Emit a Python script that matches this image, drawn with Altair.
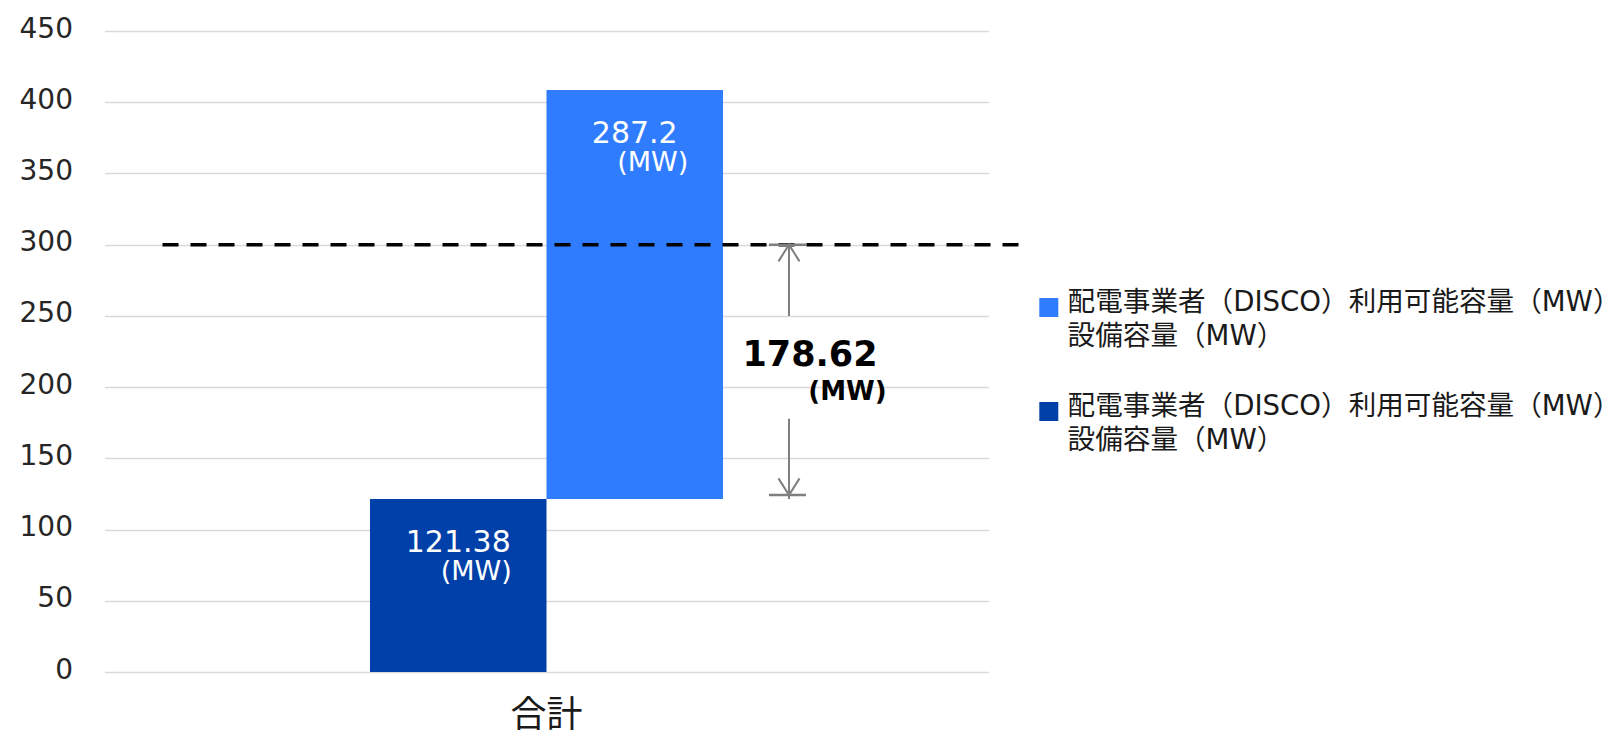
import altair as alt
import pandas as pd

# --- chart data -------------------------------------------------------------
categories = ["合計"]
series_keys = ["base", "added"]          # drawn left to right inside the category
series_values = [121.38, 287.2]          # MW
series_colors = {"base": "#0040A8", "added": "#307CFF"}
legend_order = ["added", "base"]
legend_lines = ["配電事業者（DISCO）利用可能容量（MW）", "設備容量（MW）"]
unit_label = "(MW)"
reference_level = 300                   # MW, dashed line
y_ticks = [0, 50, 100, 150, 200, 250, 300, 350, 400, 450]

# arrow shafts stop short of the gap label (in MW)
shaft_top_end = 250
shaft_bottom_start = 175

# --- derived tables ---------------------------------------------------------
base_value, added_value = series_values
bars = pd.DataFrame({
    "cat": categories * 2,
    "series": series_keys,
    "start": [0, base_value],
    "end": [base_value, base_value + added_value],
    "value": series_values,
})
bars["label"] = bars["value"].map(lambda v: f"{v:g}")

gap = reference_level - base_value
gap_df = pd.DataFrame({
    "mid": [(reference_level + base_value) / 2],
    "label": [f"{gap:.2f}"],
})
ref_df = pd.DataFrame({"level": [reference_level]})
top_df = pd.DataFrame({"y": [reference_level], "y2": [shaft_top_end]})
bottom_df = pd.DataFrame({"y": [shaft_bottom_start], "y2": [base_value]})
base_df = pd.DataFrame({"level": [base_value]})

# --- fonts / styling --------------------------------------------------------
LATIN = "'DejaVu Sans', 'Noto Sans CJK JP'"
CJK = "'Noto Sans CJK JP'"
ARROW_GREY = "#7f7f7f"
ARROW_X = 684.5
# legend swatch: 19px square, nudged up so it lines up with the first text line
SWATCH = "M -1 -1.35 L 1 -1.35 L 1 0.65 L -1 0.65 Z"

y_scale = alt.Scale(domain=[0, 450], nice=False, zero=True)
y_axis = alt.Axis(
    title=None, values=y_ticks, grid=True, gridColor="#d9d9d9", gridWidth=1.5,
    domain=False, ticks=False, labelFont=LATIN, labelFontSize=28,
    labelColor="#262626", labelPadding=32, labelOffset=-2,
)

x_enc = alt.X(
    "cat:N",
    scale=alt.Scale(paddingInner=0, paddingOuter=0.752),
    axis=alt.Axis(title=None, labelAngle=0, labelFont=CJK, labelFontSize=36,
                  labelColor="#1a1a1a", labelPadding=26, domain=False,
                  ticks=False, grid=False),
)
xoff_enc = alt.XOffset("series:N", sort=series_keys,
                       scale=alt.Scale(paddingInner=0, paddingOuter=0))

label_expr = "[" + ", ".join(f"'{s}'" for s in legend_lines) + "]"

bar_layer = alt.Chart(bars).mark_bar().encode(
    x=x_enc,
    xOffset=xoff_enc,
    y=alt.Y("end:Q", scale=y_scale, axis=y_axis),
    y2="start:Q",
    color=alt.Color(
        "series:N",
        scale=alt.Scale(domain=legend_order,
                        range=[series_colors[k] for k in legend_order]),
        legend=alt.Legend(
            title=None, orient="none", legendX=930.5, legendY=266,
            direction="vertical", symbolType=SWATCH, symbolSize=361,
            symbolStrokeWidth=0, labelExpr=label_expr, labelFont=LATIN,
            labelFontSize=27.6, labelColor="#1a1a1a",
            labelBaseline="alphabetic", labelLimit=1000, labelOffset=5,
            rowPadding=41, padding=0,
        ),
    ),
)

value_text = alt.Chart(bars).mark_text(
    font=LATIN, fontSize=30, color="white", dy=44, baseline="middle"
).encode(x=x_enc, xOffset=xoff_enc,
         y=alt.Y("end:Q", scale=y_scale, axis=y_axis), text="label:N")

unit_text = alt.Chart(bars).mark_text(
    font=LATIN, fontSize=27, color="white", dx=18, dy=73, baseline="middle"
).encode(x=x_enc, xOffset=xoff_enc,
         y=alt.Y("end:Q", scale=y_scale, axis=y_axis),
         text=alt.value(unit_label))

ref_line = alt.Chart(ref_df).mark_rule(
    color="black", strokeWidth=3.5, strokeDash=[16, 12]
).encode(x=alt.value(58), x2=alt.value(915),
         y=alt.Y("level:Q", scale=y_scale, axis=y_axis))

top_shaft = alt.Chart(top_df).mark_rule(color=ARROW_GREY, strokeWidth=2).encode(
    x=alt.value(ARROW_X), y=alt.Y("y:Q", scale=y_scale, axis=y_axis), y2="y2:Q")
bottom_shaft = alt.Chart(bottom_df).mark_rule(
    color=ARROW_GREY, strokeWidth=2, yOffset=-4
).encode(x=alt.value(ARROW_X), y=alt.Y("y:Q", scale=y_scale, axis=y_axis),
         y2="y2:Q")

top_cap = alt.Chart(ref_df).mark_rule(color=ARROW_GREY, strokeWidth=2.5).encode(
    x=alt.value(664.5), x2=alt.value(701.5),
    y=alt.Y("level:Q", scale=y_scale, axis=y_axis))
bottom_cap = alt.Chart(base_df).mark_rule(
    color=ARROW_GREY, strokeWidth=2.5, yOffset=-4
).encode(x=alt.value(664.5), x2=alt.value(701.5),
         y=alt.Y("level:Q", scale=y_scale, axis=y_axis))

head_up = alt.Chart(ref_df).mark_point(
    shape="M -0.63 1 L 0 0 L 0.63 1", size=1116, filled=False,
    color=ARROW_GREY, strokeWidth=2, opacity=1
).encode(x=alt.value(ARROW_X), y=alt.Y("level:Q", scale=y_scale, axis=y_axis))
head_down = alt.Chart(base_df).mark_point(
    shape="M -0.63 -1 L 0 0 L 0.63 -1", size=1116, filled=False,
    color=ARROW_GREY, strokeWidth=2, opacity=1, yOffset=-4
).encode(x=alt.value(ARROW_X), y=alt.Y("level:Q", scale=y_scale, axis=y_axis))

gap_text = alt.Chart(gap_df).mark_text(
    font=LATIN, fontSize=35, fontWeight="bold", color="black", dy=-17,
    baseline="middle"
).encode(x=alt.value(705.5), y=alt.Y("mid:Q", scale=y_scale, axis=y_axis),
         text="label:N")
gap_unit = alt.Chart(gap_df).mark_text(
    font=LATIN, fontSize=26, fontWeight="bold", color="black", dy=20,
    baseline="middle"
).encode(x=alt.value(743), y=alt.Y("mid:Q", scale=y_scale, axis=y_axis),
         text=alt.value(unit_label))

chart = alt.layer(
    bar_layer, value_text, unit_text, ref_line,
    top_shaft, bottom_shaft, top_cap, bottom_cap, head_up, head_down,
    gap_text, gap_unit,
).properties(
    width=884, height=641,
    autosize=alt.AutoSizeParams(type="none"),
    padding={"left": 104.5, "top": 31, "right": 634.5, "bottom": 64},
).configure(
    background="white",
    view={"stroke": None, "strokeWidth": 0},
    style={"guide-label": {"lineHeight": 34.5}},
)

chart.save("out.html", embed_options={"renderer": "svg", "actions": False})
